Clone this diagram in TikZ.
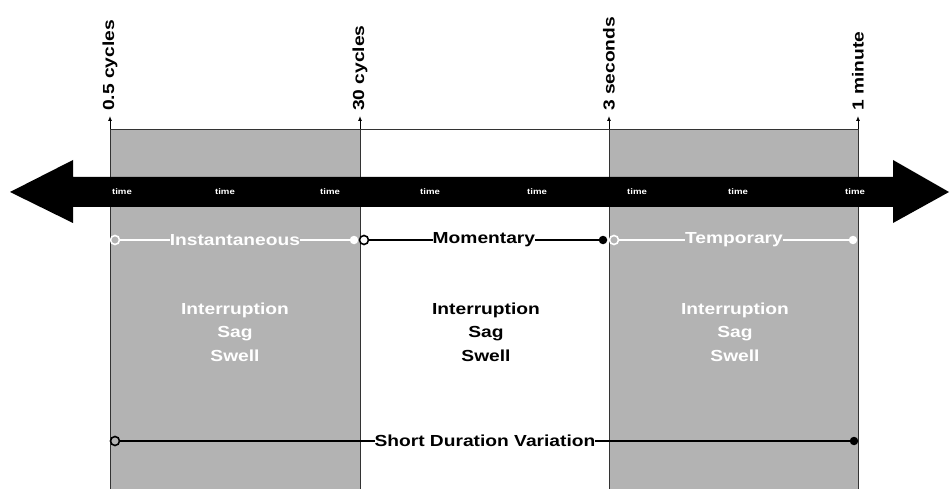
\documentclass[tikz,border=0pt]{standalone}
\usepackage{fontspec}
\setmainfont{Liberation Sans}[FakeStretch=1.2]
\usetikzlibrary{arrows.meta}
\definecolor{boxgray}{RGB}{179,179,179}
\tikzset{
  lbl/.style={font=\bfseries\fontsize{16}{19}\selectfont, inner sep=0pt},
  ticklbl/.style={font=\bfseries\fontsize{16}{19}\selectfont, inner sep=0pt, rotate=90, anchor=west},
  tiny/.style={font=\bfseries\fontsize{8}{9}\selectfont, text=white, inner sep=0pt},
  evlist/.style={font=\bfseries\fontsize{16}{23.5}\selectfont, align=center, inner sep=0pt},
  odot/.style={circle, draw=#1, line width=1.6pt, minimum size=9pt, inner sep=0pt},
  fdot/.style={circle, fill=#1, minimum size=8.5pt, inner sep=0pt},
  tickarrow/.style={-{Latex[length=5pt,width=4pt]}, line width=1pt},
  boxline/.style={line width=0.8pt, draw=black!80}
}
\begin{document}
\begin{tikzpicture}[x=1pt,y=-1pt]
\useasboundingbox (0,0) rectangle (950,489);
% shaded boxes
\fill[boxgray] (110,129) rectangle (360,489);
\fill[boxgray] (609,129) rectangle (858,489);
\coordinate (b1) at (110,129); \coordinate (b1b) at (110,489);
\coordinate (b2) at (360,129); \coordinate (b2b) at (360,489);
\coordinate (b3) at (609,129); \coordinate (b3b) at (609,489);
\coordinate (b4) at (858,129); \coordinate (b4b) at (858,489);
\draw[boxline] (b1b) -- (b1) -- (b4) -- (b4b);
\draw[boxline] (b2) -- (b2b);
\draw[boxline] (b3) -- (b3b);
% tick arrows
\coordinate (a1) at (110,116); \coordinate (a2) at (360,116);
\coordinate (a3) at (609,116); \coordinate (a4) at (858,116);
\draw[tickarrow] (b1) -- (a1);
\draw[tickarrow] (b2) -- (a2);
\draw[tickarrow] (b3) -- (a3);
\draw[tickarrow] (b4) -- (a4);
\node[ticklbl] (l1) at (110,111) {0.5 cycles};
\node[ticklbl] (l2) at (360,111) {30 cycles};
\node[ticklbl] (l3) at (609,111) {3 seconds};
\node[ticklbl] (l4) at (858,111) {1 minute};
% big double arrow
\fill[black] (10,192) -- (73,160) -- (73,177) -- (893,177) -- (893,160) -- (949,192)
  -- (893,223) -- (893,207) -- (73,207) -- (73,223) -- cycle;
\foreach \x [count=\i] in {122,225,330,430,537,637,738,855}
  \node[tiny] (time\i) at (\x,192) {time};
% category lines
\node[odot=white, fill=boxgray] (i1) at (115,240) {};
\node[fdot=white] (i2) at (354,240) {};
\draw[white, line width=2.2pt] (i1) -- node[lbl, text=white, fill=boxgray] (inst) {Instantaneous} (i2);
\node[odot=black, fill=white] (m1) at (364,240) {};
\node[fdot=black] (m2) at (603,240) {};
\draw[black, line width=2.2pt] (m1) -- node[lbl, text=black, fill=white] (mom) {Momentary} (m2);
\node[odot=white, fill=boxgray] (t1) at (614,240) {};
\node[fdot=white] (t2) at (853,240) {};
\draw[white, line width=2.2pt] (t1) -- node[lbl, text=white, fill=boxgray] (temp) {Temporary} (t2);
% event lists
\node[evlist, text=white] (e1) at (235,332) {Interruption\\Sag\\Swell};
\node[evlist, text=black] (e2) at (486,332) {Interruption\\Sag\\Swell};
\node[evlist, text=white] (e3) at (735,332) {Interruption\\Sag\\Swell};
% short duration variation
\node[odot=black, fill=boxgray] (s1) at (115,441) {};
\node[fdot=black] (s2) at (854,441) {};
\draw[black, line width=1.8pt] (s1) -- node[lbl, text=black, fill=white] (sdv) {Short Duration Variation} (s2);
\end{tikzpicture}
\end{document}
